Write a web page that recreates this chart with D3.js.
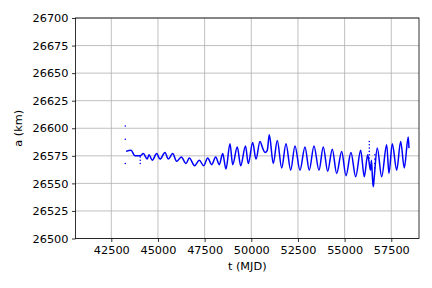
<!DOCTYPE html>
<html>
<head>
<meta charset="utf-8">
<script src="https://cdn.jsdelivr.net/npm/d3@7"></script>
<style>
  body { margin: 0; background: #fff; }
  svg text { font-family: "DejaVu Sans", sans-serif; fill: #000; }
</style>
</head>
<body>
<div id="chart"></div>
<script>
var tMain = [43287, 43555, 43769, 44037, 44214, 44428, 44519, 44696, 44932, 45109,
  45377, 45553, 45789, 46003, 46250, 46502, 46678, 46968, 47214, 47450,
  47664, 47878, 48093, 48285, 48468, 48644, 48859, 49003, 49250, 49432,
  49689, 49839, 50075, 50251, 50466, 50610, 50733, 50857, 50964, 51178,
  51393, 51628, 51859, 52110, 52341, 52608, 52876, 53107, 53358, 53626,
  53857, 54093, 54339, 54575, 54842, 55073, 55340, 55592, 55860, 56053,
  56235, 56304, 56385, 56438, 56492, 56535, 56573, 56749, 56985, 57253,
  57376, 57553, 57789, 58003, 58196, 58410, 58448];
var aMain = [26579, 26580, 26575, 26575, 26577, 26572, 26576, 26571, 26577, 26572,
  26578, 26572, 26577, 26570, 26574, 26568, 26573, 26566, 26571, 26566,
  26573, 26567, 26574, 26567, 26577, 26563, 26586, 26567, 26583, 26566,
  26584, 26568, 26587, 26572, 26588, 26582, 26578, 26580, 26594, 26568,
  26589, 26564, 26586, 26562, 26584, 26562, 26583, 26562, 26584, 26562,
  26583, 26561, 26581, 26559, 26579, 26557, 26578, 26556, 26580, 26556,
  26576, 26570, 26562, 26571, 26555, 26547, 26553, 26582, 26556, 26585,
  26559, 26586, 26562, 26588, 26564, 26592, 26582];

// isolated points
var tDots = [43250, 43250, 43250, 44050, 44050, 44050,
  56321, 56321, 56321, 56321, 56321, 56321,
  56620, 56620, 56620, 56620];
var aDots = [26602, 26590, 26568, 26574, 26571, 26568,
  26588, 26585, 26582, 26579, 26576, 26573,
  26576, 26572, 26568, 26564];

var yTicks = [26500, 26525, 26550, 26575, 26600, 26625, 26650, 26675, 26700];
var xTicks = [42500, 45000, 47500, 50000, 52500, 55000, 57500];

var W = 432, H = 288;
var margin = {top: 18, right: 13, bottom: 49.5, left: 75.5};
var width = W - margin.left - margin.right,
    height = H - margin.top - margin.bottom;

var svg = d3.select("#chart").append("svg")
    .attr("width", W)
    .attr("height", H);
var g = svg.append("g")
    .attr("transform", "translate(" + margin.left + "," + margin.top + ")");

var x = d3.scaleLinear().domain([40582, 58985]).range([0, width]);
var y = d3.scaleLinear().domain([26500, 26700]).range([height, 0]);

// grid
g.append("g").selectAll("line").data(xTicks).enter().append("line")
    .attr("x1", function(d){ return x(d); })
    .attr("x2", function(d){ return x(d); })
    .attr("y1", 0).attr("y2", height)
    .attr("stroke", "#b0b0b0").attr("stroke-width", 0.8);
g.append("g").selectAll("line").data(yTicks).enter().append("line")
    .attr("y1", function(d){ return y(d); })
    .attr("y2", function(d){ return y(d); })
    .attr("x1", 0).attr("x2", width)
    .attr("stroke", "#b0b0b0").attr("stroke-width", 0.8);

// data
var pts = tMain.map(function(t, i){ return {t: t, a: aMain[i]}; });
var line = d3.line()
    .x(function(d){ return x(d.t); })
    .y(function(d){ return y(d.a); })
    .curve(d3.curveMonotoneX);
g.append("path")
    .datum(pts)
    .attr("fill", "none")
    .attr("stroke", "#0000ff")
    .attr("stroke-width", 1.5)
    .attr("d", line);

g.selectAll(".dot")
    .data(tDots.map(function(t, i){ return {t: t, a: aDots[i]}; }))
  .enter().append("circle")
    .attr("class", "dot")
    .attr("cx", function(d){ return x(d.t); })
    .attr("cy", function(d){ return y(d.a); })
    .attr("r", 0.8)
    .attr("fill", "#0000ff");

// axes
var xAxis = d3.axisBottom(x).tickValues(xTicks).tickSize(3.5).tickPadding(3.5)
    .tickFormat(d3.format("d"));
var yAxis = d3.axisLeft(y).tickValues(yTicks).tickSize(3.5).tickPadding(3.5)
    .tickFormat(d3.format("d"));

var gx = g.append("g").attr("transform", "translate(0," + height + ")").call(xAxis);
var gy = g.append("g").call(yAxis);
[gx, gy].forEach(function(ax){
  ax.select(".domain").remove();
  ax.selectAll(".tick line").attr("stroke", "#000").attr("stroke-width", 0.8);
  ax.selectAll("text").style("font-size", "11.3px").attr("fill", "#000");
});

// frame
g.append("rect")
    .attr("width", width).attr("height", height)
    .attr("fill", "none").attr("stroke", "#000").attr("stroke-width", 0.8);

// labels
svg.append("text")
    .attr("x", margin.left + width / 2)
    .attr("y", 270)
    .attr("text-anchor", "middle")
    .style("font-size", "11.3px")
    .text("t (MJD)");
svg.append("text")
    .attr("transform", "translate(22," + (margin.top + height / 2) + ") rotate(-90)")
    .attr("text-anchor", "middle")
    .style("font-size", "11.3px")
    .text("a (km)");
</script>
</body>
</html>
